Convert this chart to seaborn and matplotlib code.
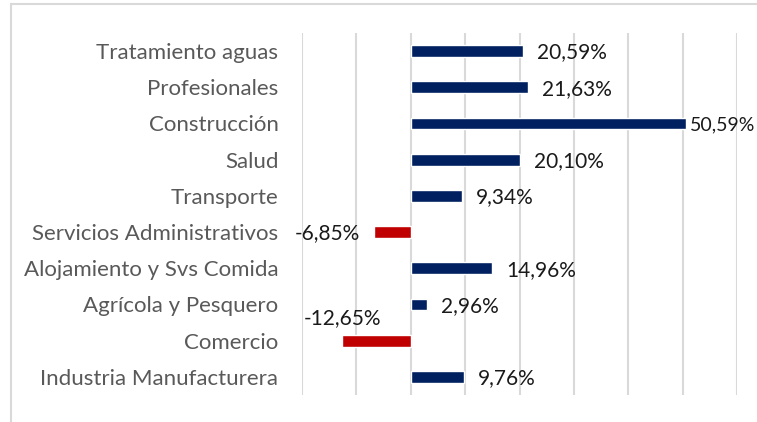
import numpy as np
import pandas as pd
import seaborn as sns
import matplotlib.pyplot as plt
from matplotlib.lines import Line2D

# datos (orden de arriba hacia abajo)
sectores = ['Tratamiento aguas', 'Profesionales', 'Construcción', 'Salud', 'Transporte',
            'Servicios Administrativos', 'Alojamiento y Svs Comida', 'Agrícola y Pesquero',
            'Comercio', 'Industria Manufacturera']
variacion = [20.59, 21.63, 50.59, 20.10, 9.34, -6.85, 14.96, 2.96, -12.65, 9.76]

AZUL = '#002060'
ROJO = '#C00000'


def etiqueta(v):
    return '{:.2f}%'.format(v).replace('.', ',')


def main():
    sns.set_style('white')
    plt.rcParams['font.family'] = ['Lato', 'DejaVu Sans']

    df = pd.DataFrame({'sector': sectores, 'valor': variacion})
    colores = {s: (AZUL if v >= 0 else ROJO) for s, v in zip(sectores, variacion)}

    fig = plt.figure(figsize=(7.57, 4.22), dpi=100)
    ax = fig.add_axes([0.399, 0.064, 0.5746, 0.8578])
    sns.barplot(data=df, x='valor', y='sector', hue='sector', palette=colores,
                legend=False, width=0.33, orient='h', ax=ax, saturation=1)

    ax.set_xlim(-20, 60)
    ax.set_xticks(np.arange(-20, 61, 10))
    ax.set_xticklabels([])
    ax.grid(axis='x', color='#d9d9d9', linewidth=1.5)
    ax.set_axisbelow(True)
    for s in ax.spines.values():
        s.set_visible(False)
    ax.set_xlabel('')
    ax.set_ylabel('')
    ax.tick_params(axis='both', length=0)
    ax.tick_params(axis='y', pad=17, labelsize=16, labelcolor='#595959')

    vmax = max(variacion)
    for i, v in enumerate(variacion):
        if v >= 0:
            # la etiqueta de la barra más larga queda pegada al borde, como en Excel
            if v == vmax:
                ax.annotate(etiqueta(v), (v, i), xytext=(3, -1), textcoords='offset points',
                            ha='left', va='center', fontsize=14, color='#1a1a1a')
            else:
                ax.annotate(etiqueta(v), (v, i), xytext=(10, -1), textcoords='offset points',
                            ha='left', va='center', fontsize=15, color='#1a1a1a')
        elif sectores[i] == 'Comercio':
            ax.annotate(etiqueta(v), (v, i), xytext=(0, 16), textcoords='offset points',
                        ha='center', va='center', fontsize=15, color='#1a1a1a')
        else:
            ax.annotate(etiqueta(v), (v, i), xytext=(-10, -1), textcoords='offset points',
                        ha='right', va='center', fontsize=15, color='#1a1a1a')

    # marco del gráfico
    fig.add_artist(Line2D([11 / 757, 11 / 757], [0, 1 - 4 / 422], transform=fig.transFigure,
                          color='#d9d9d9', linewidth=1.5))
    fig.add_artist(Line2D([11 / 757, 1], [1 - 4 / 422, 1 - 4 / 422], transform=fig.transFigure,
                          color='#d9d9d9', linewidth=1.5))

    fig.savefig('out.png', dpi=100)


if __name__ == '__main__':
    main()
